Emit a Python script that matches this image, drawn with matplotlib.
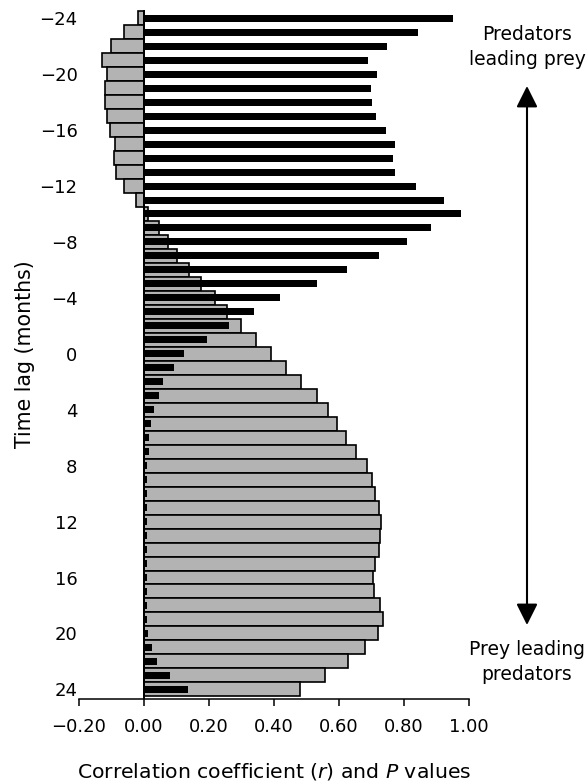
import matplotlib
matplotlib.use("Agg")
import matplotlib.pyplot as plt

plt.rcParams['font.family'] = ['DejaVu Sans']
plt.rcParams['mathtext.fontset'] = 'custom'
plt.rcParams['mathtext.it'] = 'DejaVu Sans:italic'
plt.rcParams['axes.unicode_minus'] = True

# lag in months (negative = predators leading prey)
lags = list(range(-24, 25))

# correlation coefficient r (grey bars)
r_values = [-0.018, -0.062, -0.101, -0.128, -0.115, -0.121, -0.121, -0.115, -0.103,
            -0.090, -0.091, -0.085, -0.060, -0.024, 0.012, 0.046, 0.073, 0.102,
            0.138, 0.177, 0.220, 0.257, 0.300, 0.345, 0.393, 0.438, 0.484, 0.532,
            0.568, 0.594, 0.622, 0.653, 0.687, 0.703, 0.713, 0.723, 0.729, 0.728,
            0.723, 0.713, 0.707, 0.709, 0.728, 0.736, 0.722, 0.681, 0.630, 0.557,
            0.482]

# P values (black bars)
p_values = [0.951, 0.843, 0.750, 0.689, 0.717, 0.701, 0.704, 0.715, 0.746, 0.775,
            0.766, 0.775, 0.838, 0.926, 0.978, 0.886, 0.810, 0.723, 0.627, 0.533,
            0.418, 0.339, 0.261, 0.193, 0.123, 0.094, 0.060, 0.046, 0.030, 0.023,
            0.017, 0.015, 0.009, 0.008, 0.008, 0.008, 0.008, 0.008, 0.010, 0.008,
            0.011, 0.011, 0.010, 0.011, 0.014, 0.024, 0.040, 0.079, 0.136]

x_ticks = [-0.2, 0.0, 0.2, 0.4, 0.6, 0.8, 1.0]
y_ticks = list(range(-24, 25, 4))

fig = plt.figure(figsize=(5.87, 7.82), dpi=100)
ax = fig.add_axes([79 / 587, 1 - 699 / 782, (468.5 - 79) / 587, (699 - 10) / 782])

ax.barh(lags, r_values, height=1.0, color='#b3b3b3', edgecolor='black', linewidth=1.2, zorder=2)
ax.barh(lags, p_values, height=0.5, color='black', edgecolor='none', zorder=3)
ax.axvline(0, color='black', linewidth=1.4, zorder=4)

ax.set_xlim(-0.2, 1.0)
ax.set_ylim(24.69, -24.59)

ax.set_xticks(x_ticks)
ax.set_xticklabels([f"{v:.2f}".replace('-', '\u2212') for v in x_ticks])
ax.set_yticks(y_ticks)
ax.set_yticklabels([str(v).replace('-', '\u2212') for v in y_ticks])

ax.tick_params(axis='x', direction='out', length=5, width=1.1, pad=9, labelsize=13)
ax.tick_params(axis='y', length=0, pad=1, labelsize=13)

for side in ['top', 'right', 'left']:
    ax.spines[side].set_visible(False)
ax.spines['bottom'].set_linewidth(1.1)

ax.set_xlabel(r'Correlation coefficient ($\it{r}$) and $\it{P}$ values', fontsize=14.7, labelpad=18)
ax.set_ylabel('Time lag (months)', fontsize=14.8)
ax.yaxis.set_label_coords((35 - 79) / 389.5, 0.5)

# side annotations
fig.text(527 / 587, 1 - 47 / 782, 'Predators\nleading prey', ha='center', va='center',
         fontsize=13.5, linespacing=1.35)
fig.text(527 / 587, 1 - 662 / 782, 'Prey leading\npredators', ha='center', va='center',
         fontsize=13.5, linespacing=1.35)
ax.annotate('', xy=(527 / 587, 1 - 625 / 782), xytext=(527 / 587, 1 - 86 / 782),
            xycoords='figure fraction', textcoords='figure fraction',
            arrowprops=dict(arrowstyle='<|-|>,head_length=1.0,head_width=0.5',
                            mutation_scale=13, color='black', lw=1.5,
                            shrinkA=0, shrinkB=0))

fig.savefig('out.png', dpi=100, facecolor='white')
